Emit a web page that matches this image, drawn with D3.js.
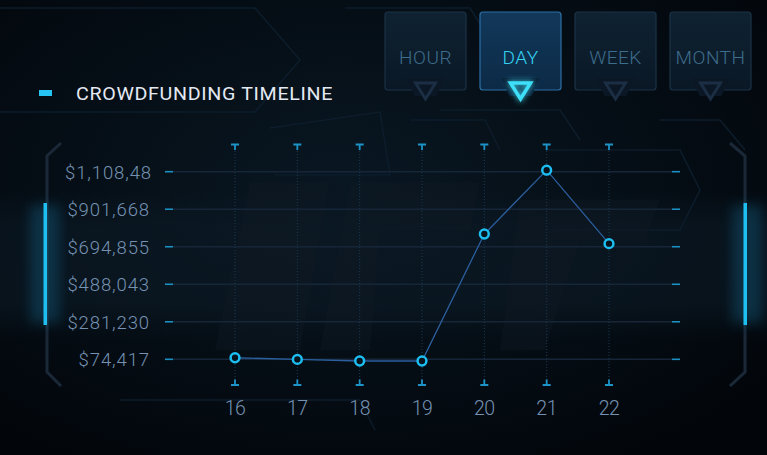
<!DOCTYPE html>
<html>
<head>
<meta charset="utf-8">
<script src="https://cdn.jsdelivr.net/npm/d3@7"></script>
<style>
  html, body { margin: 0; padding: 0; background: #03080f; }
  svg { display: block; font-family: Roboto, "DejaVu Sans", sans-serif; }
</style>
</head>
<body>
<svg width="767" height="455"></svg>
<script>
// chart data
const days = ['16', '17', '18', '19', '20', '21', '22']
const funding = [83000, 74000, 65000, 65000, 765000, 1117000, 712000]
const yTicks = [74417, 281230, 488043, 694855, 901668, 1108480]
const periods = ['HOUR', 'DAY', 'WEEK', 'MONTH']
const activePeriod = 'DAY'
const title = 'CROWDFUNDING TIMELINE'

const svg = d3.select('svg')
const W = 767, H = 455

const defs = svg.append('defs')
const bg = defs.append('radialGradient').attr('id', 'bg').attr('cx', '45%').attr('cy', '40%').attr('r', '70%')
bg.append('stop').attr('offset', '0%').attr('stop-color', '#091722')
bg.append('stop').attr('offset', '100%').attr('stop-color', '#02060b')

// soft horizontal band behind the plot
const band = defs.append('linearGradient').attr('id', 'band').attr('x1', 0).attr('y1', 0).attr('x2', 0).attr('y2', 1)
band.append('stop').attr('offset', '0%').attr('stop-color', '#0d1c28').attr('stop-opacity', 0)
band.append('stop').attr('offset', '25%').attr('stop-color', '#0d1c28').attr('stop-opacity', 0.5)
band.append('stop').attr('offset', '75%').attr('stop-color', '#0d1c28').attr('stop-opacity', 0.5)
band.append('stop').attr('offset', '100%').attr('stop-color', '#0d1c28').attr('stop-opacity', 0)

const btnGrad = defs.append('linearGradient').attr('id', 'btn').attr('x1', 0).attr('y1', 0).attr('x2', 0).attr('y2', 1)
btnGrad.append('stop').attr('offset', '0%').attr('stop-color', '#0f2232')
btnGrad.append('stop').attr('offset', '100%').attr('stop-color', '#0a1826')
const btnOn = defs.append('linearGradient').attr('id', 'btnOn').attr('x1', 0).attr('y1', 0).attr('x2', 0).attr('y2', 1)
btnOn.append('stop').attr('offset', '0%').attr('stop-color', '#12385a')
btnOn.append('stop').attr('offset', '100%').attr('stop-color', '#0c2a46')

const glow = defs.append('filter').attr('id', 'glow').attr('x', '-100%').attr('y', '-100%').attr('width', '300%').attr('height', '300%')
glow.append('feGaussianBlur').attr('stdDeviation', 3).attr('result', 'b')
const fm = glow.append('feMerge')
fm.append('feMergeNode').attr('in', 'b')
fm.append('feMergeNode').attr('in', 'SourceGraphic')

const soft = defs.append('filter').attr('id', 'soft').attr('x', '-300%').attr('y', '-50%').attr('width', '700%').attr('height', '200%')
soft.append('feGaussianBlur').attr('stdDeviation', 6)

defs.append('clipPath').attr('id', 'lblclip')
  .append('rect').attr('x', 60).attr('y', 140).attr('width', 91).attr('height', 240)

// background
svg.append('rect').attr('width', W).attr('height', H).attr('fill', 'url(#bg)')
svg.append('rect').attr('x', 0).attr('y', 190).attr('width', W).attr('height', 150)
  .attr('fill', 'url(#band)')

// faint hexagon decorations
const hexes = [
  [[-10, 8], [255, 8], [300, 60], [255, 112], [-10, 112]],
  [[345, 8], [470, 8], [490, 40]],
  [[270, 128], [380, 112], [390, 175], [275, 175]],
  [[410, 120], [485, 120], [500, 150]],
  [[660, 120], [720, 120], [745, 150]],
  [[545, 150], [680, 150], [700, 190], [680, 230], [545, 230]],
  [[120, 400], [360, 400], [375, 430]],
  [[440, 110], [560, 110], [580, 140]]
]
svg.append('g').selectAll('path').data(hexes).join('path')
  .attr('d', d => d3.line()(d))
  .attr('fill', 'none').attr('stroke', '#0d1d2b').attr('stroke-width', 1.5)

// faint logo shapes
svg.append('path')
  .attr('d', 'M250,182 L330,182 L300,350 L215,350 Z M350,182 L480,182 L470,230 L380,230 L370,350 L320,350 Z M520,200 L660,200 L645,240 L580,240 L545,350 L500,350 Z')
  .attr('fill', '#0d1822').attr('opacity', 0.5)

// title
svg.append('rect').attr('x', 39).attr('y', 90).attr('width', 13).attr('height', 6).attr('fill', '#27c3f2')
svg.append('text').attr('x', 76).attr('y', 100)
  .attr('font-size', 18).attr('fill', '#e4e9f2').attr('letter-spacing', 0.6)
  .attr('textLength', 257).attr('lengthAdjust', 'spacingAndGlyphs')
  .text(title)

// period buttons
const bx = d3.scalePoint().domain(periods).range([425.5, 710.5])
const btn = svg.append('g').selectAll('g').data(periods).join('g')
  .attr('transform', d => `translate(${bx(d)},0)`)
btn.append('rect').attr('x', -40.5).attr('y', 12).attr('width', 81).attr('height', 78).attr('rx', 3)
  .attr('fill', d => d === activePeriod ? 'url(#btnOn)' : 'url(#btn)')
  .attr('stroke', d => d === activePeriod ? '#2c6fa6' : '#1b3347').attr('stroke-width', 1.2)
btn.append('path').attr('d', 'M-19,78 L19,78 L11,96 L-11,96 Z')
  .attr('fill', d => d === activePeriod ? '#0a2138' : '#0b1724')
btn.append('text').attr('x', 0).attr('y', 64).attr('text-anchor', 'middle')
  .attr('font-size', 19).attr('font-weight', 300).attr('letter-spacing', 0.5)
  .attr('fill', d => d === activePeriod ? '#35d3f2' : '#3d6d8c')
  .text(d => d)
btn.append('path').attr('d', 'M-10,83 L10,83 L0,99 Z')
  .attr('fill', 'none').attr('stroke-linejoin', 'miter')
  .attr('stroke', d => d === activePeriod ? '#3ee0f8' : '#1c2e44')
  .attr('stroke-width', d => d === activePeriod ? 3.5 : 3)
  .attr('filter', d => d === activePeriod ? 'url(#glow)' : null)

// side brackets
const bracketL = [[61, 143], [47, 156], [47, 372], [61, 386]]
const bracketR = [[730, 143], [745, 156], [745, 372], [730, 386]]
svg.append('g').selectAll('path').data([bracketL, bracketR]).join('path')
  .attr('d', d => d3.line()(d)).attr('fill', 'none')
  .attr('stroke', '#1a2838').attr('stroke-width', 3)
svg.append('rect').attr('x', 30).attr('y', 205).attr('width', 30).attr('height', 118)
  .attr('fill', '#1aa6e0').attr('opacity', 0.2).attr('filter', 'url(#soft)')
svg.append('rect').attr('x', 732).attr('y', 205).attr('width', 30).attr('height', 118)
  .attr('fill', '#1aa6e0').attr('opacity', 0.2).attr('filter', 'url(#soft)')
svg.append('rect').attr('x', 43.5).attr('y', 203).attr('width', 3.5).attr('height', 122).attr('fill', '#1ec0f2')
svg.append('rect').attr('x', 743.5).attr('y', 203).attr('width', 3.5).attr('height', 122).attr('fill', '#1ec0f2')

// scales
const x = d3.scalePoint().domain(days).range([235, 609])
const y = d3.scaleLinear().domain([74417, 1108480]).range([359.3, 171.7])

// horizontal grid with tick dashes
const grid = svg.append('g')
grid.selectAll('line.h').data(yTicks).join('line').attr('class', 'h')
  .attr('x1', 173).attr('x2', 672)
  .attr('y1', d => y(d)).attr('y2', d => y(d))
  .attr('stroke', '#162638').attr('stroke-width', 1.6)
grid.selectAll('line.tl').data(yTicks).join('line').attr('class', 'tl')
  .attr('x1', 165).attr('x2', 173)
  .attr('y1', d => y(d)).attr('y2', d => y(d))
  .attr('stroke', '#1a8fc2').attr('stroke-width', 1.6)
grid.selectAll('line.tr').data(yTicks).join('line').attr('class', 'tr')
  .attr('x1', 672).attr('x2', 680)
  .attr('y1', d => y(d)).attr('y2', d => y(d))
  .attr('stroke', '#1a8fc2').attr('stroke-width', 1.6)

// y labels
const fmt = d3.format(',')
const lbl = svg.append('g').attr('clip-path', 'url(#lblclip)')
lbl.selectAll('text').data(yTicks).join('text')
  .attr('x', 150).attr('y', d => y(d) + 7)
  .attr('text-anchor', 'end')
  .attr('font-size', 18.5).attr('font-weight', 300).attr('letter-spacing', 0.9)
  .attr('fill', '#7592b2')
  .text(d => '$' + fmt(d))
  .each(function () {
    // overflowing labels get cut on the right like the original
    if (this.getComputedTextLength() > 86) {
      d3.select(this).attr('text-anchor', 'start').attr('x', 65)
    }
  })

// vertical dotted lines + end markers
const col = svg.append('g').selectAll('g').data(days).join('g')
  .attr('transform', d => `translate(${x(d)},0)`)
col.append('line').attr('y1', 148).attr('y2', 383)
  .attr('stroke', '#1b3a52').attr('stroke-width', 1).attr('stroke-dasharray', '1,2')
col.append('path').attr('d', 'M-4,144.5 L4,144.5 M0,144.5 L0,150 M-4,385 L4,385 M0,379.5 L0,385')
  .attr('stroke', '#1d94c8').attr('stroke-width', 1.8).attr('fill', 'none')
col.append('text').attr('y', 415).attr('text-anchor', 'middle')
  .attr('font-size', 19.5).attr('font-weight', 300).attr('letter-spacing', -0.5)
  .attr('fill', '#7592b2')
  .text(d => d)

// line + points
const pts = days.map((d, i) => ({ day: d, value: funding[i] }))
svg.append('path').datum(pts)
  .attr('d', d3.line().x(d => x(d.day)).y(d => y(d.value)))
  .attr('fill', 'none').attr('stroke', '#2b5f9e').attr('stroke-width', 1.3)
svg.append('g').selectAll('circle').data(pts).join('circle')
  .attr('cx', d => x(d.day)).attr('cy', d => y(d.value)).attr('r', 4.4)
  .attr('fill', '#06121c').attr('stroke', '#1cbdf0').attr('stroke-width', 2.5)
</script>
</body>
</html>
